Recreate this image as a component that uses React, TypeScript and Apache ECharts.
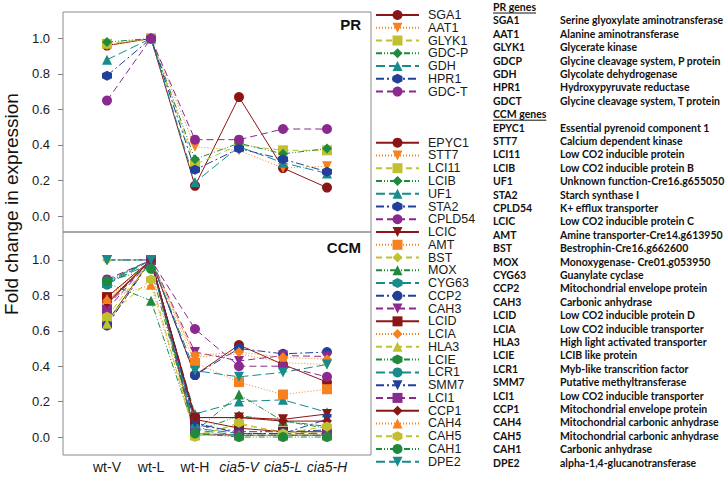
import React, { useEffect, useRef } from 'react';
import * as echarts from 'echarts';

// ---------- data ----------
const categories = ['wt-V', 'wt-L', 'wt-H', 'cia5-V', 'cia5-L', 'cia5-H'];
const yTicks = [0, 0.2, 0.4, 0.6, 0.8, 1.0];

const prNames = ['SGA1', 'AAT1', 'GLYK1', 'GDC-P', 'GDH', 'HPR1', 'GDC-T'];
const sga1 = [0.96, 1.0, 0.17, 0.67, 0.27, 0.16];
const aat1 = [0.96, 1.0, 0.39, 0.37, 0.27, 0.28];
const glyk1 = [0.97, 1.0, 0.29, 0.4, 0.37, 0.37];
const gdcP = [0.98, 1.0, 0.32, 0.41, 0.35, 0.38];
const gdh = [0.88, 1.0, 0.19, 0.39, 0.3, 0.24];
const hpr1 = [0.79, 1.0, 0.26, 0.38, 0.32, 0.25];
const gdcT = [0.65, 1.0, 0.43, 0.43, 0.49, 0.49];
const prValues = [sga1, aat1, glyk1, gdcP, gdh, hpr1, gdcT];

const ccmNames = ['EPYC1', 'STT7', 'LCI11', 'LCIB', 'UF1', 'STA2', 'CPLD54', 'LCIC', 'AMT', 'BST', 'MOX', 'CYG63', 'CCP2', 'CAH3', 'LCID', 'LCIA', 'HLA3', 'LCIE', 'LCR1', 'SMM7', 'LCI1', 'CCP1', 'CAH4', 'CAH5', 'CAH1', 'DPE2'];
const epyc1 = [0.65, 1.0, 0.35, 0.52, 0.41, 0.31];
const stt7 = [0.78, 1.0, 0.45, 0.47, 0.42, 0.41];
const lci11 = [0.68, 1.0, 0.01, 0.07, 0.03, 0.02];
const lcib = [0.88, 1.0, 0.03, 0.12, 0.09, 0.06];
const uf1 = [0.87, 0.98, 0.13, 0.2, 0.21, 0.14];
const sta2 = [0.63, 1.0, 0.07, 0.03, 0.03, 0.04];
const cpld54 = [0.89, 1.0, 0.61, 0.4, 0.4, 0.34];
const lcic = [0.75, 1.0, 0.11, 0.11, 0.1, 0.13];
const amt = [0.79, 1.0, 0.42, 0.31, 0.24, 0.27];
const bst = [1.0, 1.0, 0.01, 0.01, 0.01, 0.01];
const mox = [0.87, 0.77, 0.03, 0.24, 0.09, 0.05];
const cyg63 = [0.88, 1.0, 0.04, 0.01, 0.01, 0.01];
const ccp2 = [0.63, 1.0, 0.35, 0.5, 0.47, 0.48];
const cah3 = [0.74, 1.0, 0.48, 0.43, 0.46, 0.455];
const lcid = [0.79, 1.0, 0.1, 0.05, 0.03, 0.03];
const lcia = [0.77, 1.0, 0.46, 0.48, 0.45, 0.44];
const hla3 = [0.64, 1.0, 0.01, 0.01, 0.01, 0.01];
const lcie = [0.87, 1.0, 0.02, 0.01, 0.01, 0.01];
const lcr1 = [0.86, 1.0, 0.05, 0.02, 0.02, 0.02];
const smm7 = [1.0, 1.0, 0.08, 0.02, 0.02, 0.1];
const lci1 = [0.72, 1.0, 0.02, 0.01, 0.01, 0.01];
const ccp1 = [0.76, 1.0, 0.11, 0.11, 0.09, 0.09];
const cah4 = [0.78, 0.86, 0.02, 0.01, 0.01, 0.01];
const cah5 = [0.68, 0.89, 0.0, 0.08, 0.02, 0.06];
const cah1 = [0.88, 0.95, 0.02, 0.0, 0.0, 0.0];
const dpe2 = [1.0, 1.0, 0.375, 0.34, 0.365, 0.41];
const ccmValues = [epyc1, stt7, lci11, lcib, uf1, sta2, cpld54, lcic, amt, bst, mox, cyg63, ccp2, cah3, lcid, lcia, hla3, lcie, lcr1, smm7, lci1, ccp1, cah4, cah5, cah1, dpe2];

const prTableGenes = ['SGA1', 'AAT1', 'GLYK1', 'GDCP', 'GDH', 'HPR1', 'GDCT'];
const prTableDesc = [
  'Serine glyoxylate aminotransferase',
  'Alanine aminotransferase',
  'Glycerate kinase',
  'Glycine cleavage system, P protein',
  'Glycolate dehydrogenase',
  'Hydroxypyruvate reductase',
  'Glycine cleavage system, T protein',
];
const ccmTableGenes = ['EPYC1', 'STT7', 'LCI11', 'LCIB', 'UF1', 'STA2', 'CPLD54', 'LCIC', 'AMT', 'BST', 'MOX', 'CYG63', 'CCP2', 'CAH3', 'LCID', 'LCIA', 'HLA3', 'LCIE', 'LCR1', 'SMM7', 'LCI1', 'CCP1', 'CAH4', 'CAH5', 'CAH1', 'DPE2'];
const ccmTableDesc = [
  'Essential pyrenoid component 1',
  'Calcium dependent kinase',
  'Low CO2 inducible protein',
  'Low CO2 inducible protein B',
  'Unknown function-Cre16.g655050',
  'Starch synthase I',
  'K+ efflux transporter',
  'Low CO2 inducible protein C',
  'Amine transporter-Cre14.g613950',
  'Bestrophin-Cre16.g662600',
  'Monoxygenase- Cre01.g053950',
  'Guanylate cyclase',
  'Mitochondrial envelope protein',
  'Carbonic anhydrase',
  'Low CO2 inducible protein D',
  'Low CO2 inducible transporter',
  'High light activated transporter',
  'LCIB like protein',
  'Myb-like transcrition factor',
  'Putative methyltransferase',
  'Low CO2 inducible transporter',
  'Mitochondrial envelope protein',
  'Mitochondrial carbonic anhydrase',
  'Mitochondrial carbonic anhydrase',
  'Carbonic anhydrase',
  'alpha-1,4-glucanotransferase',
];

// ---------- styles ----------
const FONT = "'Liberation Sans', Arial, Helvetica, sans-serif";
const TFONT = "Lato, 'Open Sans', sans-serif";
const COLORS = ['#8b1616', '#f5821f', '#c0c030', '#1f8a3d', '#188b8b', '#22409a', '#8b2a8e'];
const TRI_DOWN = 'path://M0,10L10,-8L-10,-8Z';
const HEXAGON = 'path://M0,-10L8.66,-5L8.66,5L0,10L-8.66,5L-8.66,-5Z';
const SYMBOLS = ['circle', TRI_DOWN, 'rect', 'diamond', 'triangle', HEXAGON];
const DASHES: any[] = ['solid', [1, 2], [6, 4], [6, 2, 1, 2, 1, 2], [9, 4], [8, 3, 2, 3], [7, 4]];

function makeSeries(name: string, vals: number[], i: number, g: number) {
  const color = COLORS[i % 7];
  return {
    type: 'line',
    name,
    xAxisIndex: g,
    yAxisIndex: g,
    data: vals.map((v, k) => [k + 1, v]),
    symbol: SYMBOLS[i % 6],
    symbolSize: 10,
    showSymbol: true,
    lineStyle: { color, width: 1, type: DASHES[i % 7] },
    itemStyle: { color },
    emphasis: { disabled: true },
    silent: true,
  };
}

function measure(text: string, font: string) {
  const c = document.createElement('canvas').getContext('2d');
  if (!c) return text.length * 6;
  c.font = font;
  return c.measureText(text).width;
}

export default function App() {
  const ref = useRef<HTMLDivElement>(null);
  useEffect(() => {
    if (!ref.current) return;
    const chart = echarts.init(ref.current, undefined, { renderer: 'svg' });

    const series: any[] = [];
    prValues.forEach((v, i) => series.push(makeSeries(prNames[i], v, i, 0)));
    ccmValues.forEach((v, i) => series.push(makeSeries(ccmNames[i], v, i, 1)));

    const tableX1 = 493;
    const tableX2 = 560;
    const rowH = 13.4;
    const row0 = 7;
    const tFontSize = 10.5;
    const tStyle = (text: string, x: number, y: number) => ({
      type: 'text',
      x,
      y,
      silent: true,
      style: { text, fontSize: tFontSize, fontWeight: 'bold', fontFamily: TFONT, fill: '#111', verticalAlign: 'middle', align: 'left' },
    });
    const graphics: any[] = [];
    const headers = ['PR genes', 'CCM genes'];
    const headerRows = [0, prTableGenes.length + 1];
    headers.forEach((h, k) => {
      const y = row0 + headerRows[k] * rowH;
      graphics.push(tStyle(h, tableX1, y));
      const w = measure(h, `bold ${tFontSize}px Lato`);
      graphics.push({ type: 'line', silent: true, shape: { x1: tableX1, y1: y + 6, x2: tableX1 + w, y2: y + 6 }, style: { stroke: '#111', lineWidth: 1 } });
    });
    prTableGenes.forEach((g, i) => {
      const y = row0 + (i + 1) * rowH;
      graphics.push(tStyle(g, tableX1, y));
      graphics.push(tStyle(prTableDesc[i], tableX2, y));
    });
    ccmTableGenes.forEach((g, i) => {
      const y = row0 + (i + prTableGenes.length + 2) * rowH;
      graphics.push(tStyle(g, tableX1, y));
      graphics.push(tStyle(ccmTableDesc[i], tableX2, y));
    });
    graphics.push({ type: 'text', x: 361, y: 24, silent: true, style: { text: 'PR', fontSize: 15, fontWeight: 'bold', fontFamily: FONT, fill: '#111', align: 'right', verticalAlign: 'middle' } });
    graphics.push({ type: 'text', x: 361, y: 247, silent: true, style: { text: 'CCM', fontSize: 15, fontWeight: 'bold', fontFamily: FONT, fill: '#111', align: 'right', verticalAlign: 'middle' } });
    graphics.push({ type: 'text', x: 11, y: 204, rotation: Math.PI / 2, silent: true, style: { text: 'Fold change in expression', fontSize: 19, fontFamily: FONT, fill: '#111', align: 'center', verticalAlign: 'middle' } });

    const yAxisBase = (min: number, max: number, grid: number) => ({
      type: 'value',
      gridIndex: grid,
      min,
      max,
      axisLine: { show: false },
      splitLine: { show: false },
      axisTick: { show: true, length: 5, inside: false, lineStyle: { color: '#808080' }, customValues: yTicks },
      axisLabel: { margin: 13, fontSize: 13, fontFamily: FONT, color: '#1a1a1a', customValues: yTicks, formatter: (v: number) => v.toFixed(1) },
    });

    const legendBase = {
      orient: 'vertical',
      left: 375,
      padding: 0,
      itemWidth: 43,
      itemHeight: 12.5,
      itemGap: -0.24,
      height: 420,
      selectedMode: false,
      textStyle: { fontSize: 12.5, fontFamily: FONT, color: '#1a1a1a', padding: [0, 0, 0, 4] },
    };

    chart.setOption({
      animation: false,
      backgroundColor: '#ffffff',
      grid: [
        { left: 63, top: 12, width: 308, height: 220, show: true, borderColor: '#8a8a8a', borderWidth: 1, backgroundColor: 'transparent' },
        { left: 63, top: 232, width: 308, height: 223, show: true, borderColor: '#8a8a8a', borderWidth: 1, backgroundColor: 'transparent' },
      ],
      xAxis: [
        { type: 'value', gridIndex: 0, min: 0, max: 7, show: false, splitLine: { show: false } },
        {
          type: 'value',
          gridIndex: 1,
          min: 0,
          max: 7,
          axisLine: { show: false },
          axisTick: { show: false },
          splitLine: { show: false },
          axisLabel: {
            margin: 5,
            fontSize: 14,
            fontFamily: FONT,
            color: '#1a1a1a',
            customValues: [1, 2, 3, 4, 5, 6],
            formatter: (v: number) => {
              const c = categories[Math.round(v) - 1] || '';
              return c.startsWith('cia5') ? `{i|${c}}` : c;
            },
            rich: { i: { fontStyle: 'italic', fontSize: 14, fontFamily: FONT, color: '#1a1a1a' } },
          },
        },
      ],
      yAxis: [yAxisBase(-0.09, 1.149, 0), yAxisBase(-0.1015, 1.158, 1)],
      legend: [
        { ...legendBase, top: 8.5, data: prNames },
        { ...legendBase, top: 136.2, data: ccmNames },
      ],
      graphic: graphics,
      series,
    });
    return () => chart.dispose();
  }, []);
  return <div ref={ref} style={{ position: 'fixed', left: 0, top: 0, width: 727, height: 477, background: '#fff' }} />;
}
